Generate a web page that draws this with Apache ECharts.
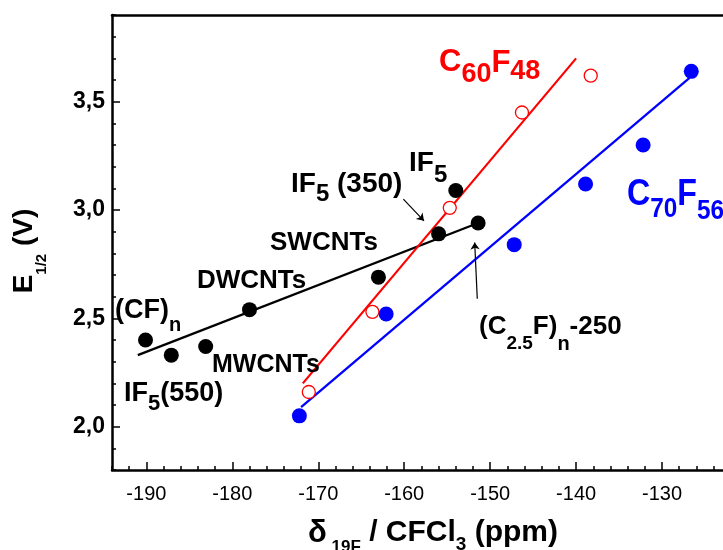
<!DOCTYPE html>
<html>
<head>
<meta charset="utf-8">
<script src="https://cdn.jsdelivr.net/npm/echarts@6/dist/echarts.min.js"></script>
<style>
html,body{margin:0;padding:0;background:#fff;}
#chart{width:723px;height:550px;}
</style>
</head>
<body>
<div id="chart"></div>
<script>
// ---- data ----
const blackX = [-190.1, -187.1, -183.1, -178.0, -163.0, -156.0, -154.0, -151.4];
const blackY = [2.40, 2.33, 2.37, 2.54, 2.69, 2.89, 3.09, 2.94];
const redX = [-171.1, -163.7, -154.7, -146.3, -138.3];
const redY = [2.16, 2.53, 3.01, 3.45, 3.62];
const blueX = [-172.2, -162.1, -147.2, -138.9, -132.2, -126.6];
const blueY = [2.05, 2.52, 2.84, 3.12, 3.30, 3.64];
// fitted straight lines (end points)
const blackFitX = [-191.0, -151.4];
const blackFitY = [2.33, 2.94];
const redFitX = [-171.8, -140.0];
const redFitY = [2.20, 3.70];
const blueFitX = [-172.0, -126.8];
const blueFitY = [2.09, 3.61];
// annotation arrows (data coords: start -> tip)
const arrowIF350X = [-160.1, -157.7];
const arrowIF350Y = [3.05, 2.95];
const arrowC25X = [-151.5, -151.8];
const arrowC25Y = [2.59, 2.85];

const xMin = -194, xMax = -120;
const yMin = 1.8, yMax = 3.9;

const FONT = 'Liberation Sans, Arial, sans-serif';
const zip = (xs, ys) => xs.map((x, i) => [x, ys[i]]);

function richText(parts, color) {
  const rich = {};
  let text = '';
  parts.forEach((p, i) => {
    const name = 'p' + i;
    rich[name] = {
      fontSize: p[1], fontWeight: 'bold', fontFamily: FONT, fill: color,
      lineHeight: 90, padding: [2 * p[2], 0, 0, 0]
    };
    text += '{' + name + '|' + p[0] + '}';
  });
  return { text, rich };
}
function label(x, y, parts, color, extra) {
  const rt = richText(parts, color);
  return Object.assign({
    type: 'text', x, y, z: 100, silent: true,
    style: { text: rt.text, rich: rt.rich, align: 'left', verticalAlign: 'middle', fill: color, fontFamily: FONT }
  }, extra || {});
}

const annotations = [
  label(439, 62, [['C', 31, 0], ['60', 27, 13], ['F', 31, 1], ['48', 27, 10]], '#ff0000'),
  label(627, 195, [['C', 37, 0], ['70', 28, 14], ['F', 37, 0], ['56', 28, 16]], '#0000ff', { scaleX: 0.87 }),
  label(409, 163, [['IF', 28, 0], ['5', 24, 12]], '#000'),
  label(291, 184, [['IF', 28, 0], ['5', 24, 10], [' (350)', 28, 0]], '#000'),
  label(270, 243, [['SWCNTs', 26, 0]], '#000'),
  label(197, 281, [['DWCNTs', 26, 0]], '#000'),
  label(212, 365, [['MWCNTs', 25, 0]], '#000'),
  label(115, 311, [['(CF)', 27, 0], ['n', 20, 14]], '#000'),
  label(124, 394, [['IF', 27, 0], ['5', 22, 10], ['(550)', 27, 0]], '#000'),
  label(479, 327, [['(C', 26, 0], ['2.5', 19, 17], ['F)', 26, 0], ['n', 20, 17], ['-250', 26, 0]], '#000'),
  // axis titles
  (function () {
    const el = label(24, 251, [['E', 28, 0], ['1/2', 15, 18], [' (V)', 28, 0]], '#000', { rotation: Math.PI / 2 });
    el.style.align = 'center';
    return el;
  })(),
  (function () {
    const el = label(433, 533, [['\u03b4', 31, 0], [' 19F', 17, 14], [' / CFCl', 30, 0], ['3', 19, 12], [' (ppm)', 30, 0]], '#000');
    el.style.align = 'center';
    return el;
  })()
];

const chart = echarts.init(document.getElementById('chart'), null, { renderer: 'canvas' });
const axisLineStyle = { color: '#000', width: 2.5 };
const option = {
  animation: false,
  backgroundColor: '#fff',
  grid: { left: 112, top: 15, bottom: 80, width: 636, containLabel: false, outerBoundsMode: 'none' },
  xAxis: [
    { type: 'value', min: xMin, max: xMax, interval: 2, position: 'bottom',
      axisLine: { show: true, onZero: false, lineStyle: axisLineStyle },
      axisTick: { show: true, inside: true, length: 4, lineStyle: { color: '#000', width: 1.5 } },
      axisLabel: { show: false }, splitLine: { show: false } },
    { type: 'value', min: xMin, max: xMax, minInterval: 10, maxInterval: 10, position: 'bottom',
      axisLine: { show: false, onZero: false },
      axisTick: { show: true, inside: true, length: 8, lineStyle: { color: '#000', width: 1.5 } },
      axisLabel: { show: true, showMinLabel: false, showMaxLabel: false, margin: 14, color: '#000', fontSize: 20, fontFamily: FONT },
      splitLine: { show: false } },
    { type: 'value', min: xMin, max: xMax, position: 'top',
      axisLine: { show: true, onZero: false, lineStyle: axisLineStyle },
      axisTick: { show: false }, axisLabel: { show: false }, splitLine: { show: false } }
  ],
  yAxis: [
    { type: 'value', min: yMin, max: yMax, interval: 0.1, position: 'left',
      axisLine: { show: true, onZero: false, lineStyle: axisLineStyle },
      axisTick: { show: true, inside: true, length: 4, lineStyle: { color: '#000', width: 1.5 } },
      axisLabel: { show: false }, splitLine: { show: false } },
    { type: 'value', min: yMin, max: yMax, minInterval: 0.5, maxInterval: 0.5, position: 'left',
      axisLine: { show: false, onZero: false },
      axisTick: { show: true, inside: true, length: 8, lineStyle: { color: '#000', width: 1.5 } },
      axisLabel: { show: true, showMinLabel: false, showMaxLabel: false, margin: 7, color: '#000', fontSize: 23, fontWeight: 'bold', fontFamily: FONT,
        formatter: v => v.toFixed(1).replace('.', ',') },
      splitLine: { show: false } }
  ],
  series: [
    { type: 'line', data: zip(blackFitX, blackFitY), showSymbol: false, symbol: 'none', silent: true, z: 2,
      lineStyle: { color: '#000', width: 2.3 } },
    { type: 'line', data: zip(redFitX, redFitY), showSymbol: false, symbol: 'none', silent: true, z: 2,
      lineStyle: { color: '#ff0000', width: 2.2 } },
    { type: 'line', data: zip(blueFitX, blueFitY), showSymbol: false, symbol: 'none', silent: true, z: 2,
      lineStyle: { color: '#0000ff', width: 2.3 } },
    { type: 'scatter', data: zip(blackX, blackY), symbol: 'circle', symbolSize: 15, z: 3,
      itemStyle: { color: '#000', opacity: 1 } },
    { type: 'scatter', data: zip(redX, redY), symbol: 'circle', symbolSize: 13, z: 3,
      itemStyle: { color: '#fff', borderColor: '#ff0000', borderWidth: 1.3, opacity: 1 } },
    { type: 'scatter', data: zip(blueX, blueY), symbol: 'circle', symbolSize: 15, z: 3,
      itemStyle: { color: '#0000ff', opacity: 1 } },
    { type: 'lines', coordinateSystem: 'cartesian2d', z: 4, silent: true,
      symbol: ['none', 'arrow'], symbolSize: 7,
      lineStyle: { color: '#000', width: 1.2, opacity: 1, curveness: 0 },
      data: [
        { coords: zip(arrowIF350X, arrowIF350Y) },
        { coords: zip(arrowC25X, arrowC25Y) }
      ] }
  ],
  graphic: annotations
};
chart.setOption(option);
</script>
</body>
</html>
